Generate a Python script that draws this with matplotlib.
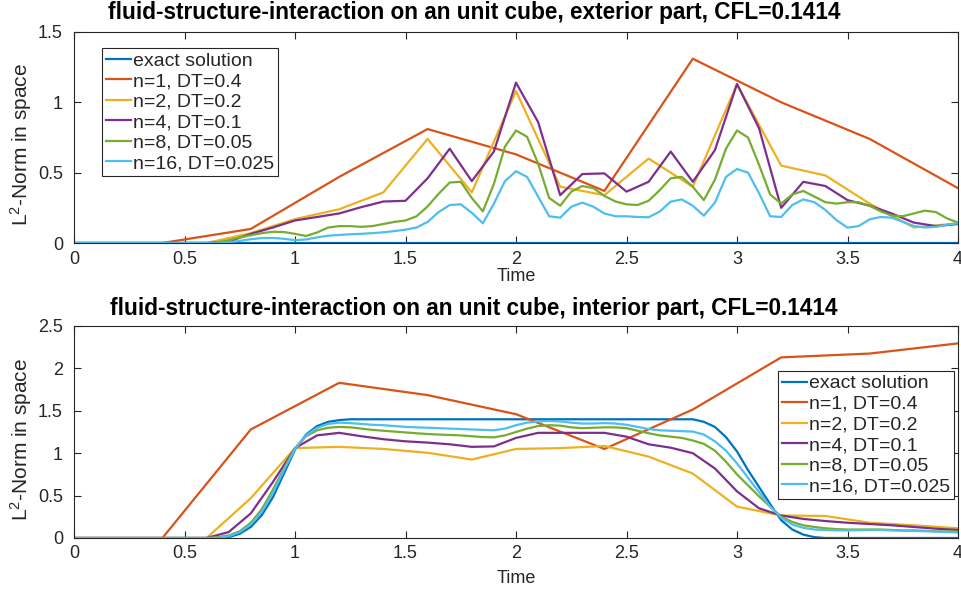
import numpy as np
import matplotlib
matplotlib.use("Agg")
import matplotlib.pyplot as plt

plt.rcParams['font.family'] = ['Liberation Sans', 'DejaVu Sans']
plt.rcParams['mathtext.default'] = 'regular'

# ---------------- data ----------------
labels = ["exact solution", "n=1, DT=0.4", "n=2, DT=0.2", "n=4, DT=0.1",
          "n=8, DT=0.05", "n=16, DT=0.025"]
colors = ["#0072BD", "#D95319", "#EDB120", "#7E2F8E", "#77AC30", "#4DBEEE"]

t_04 = np.linspace(0, 4, 11)
t_02 = np.linspace(0, 4, 21)
t_01 = np.linspace(0, 4, 41)
t_005 = np.linspace(0, 4, 81)

# exterior part
ext_exact = [0.0] * 81
ext_n1 = [0, 0, 0.10, 0.47, 0.81, 0.63, 0.37, 1.31, 1.00, 0.74, 0.39]
ext_n2 = [0, 0, 0, 0, 0.07, 0.17, 0.24, 0.36, 0.74, 0.36, 1.08, 0.40, 0.34,
          0.60, 0.40, 1.13, 0.55, 0.48, 0.28, 0.11, 0.14]
ext_n4 = [0, 0, 0, 0, 0, 0, 0, 0.01, 0.065, 0.11, 0.16, 0.185, 0.21, 0.255,
          0.295, 0.30, 0.46, 0.67, 0.44, 0.65, 1.14, 0.86, 0.34, 0.49, 0.495,
          0.365, 0.435, 0.65, 0.435, 0.66, 1.13, 0.815, 0.25, 0.435, 0.405,
          0.305, 0.265, 0.21, 0.145, 0.12, 0.135]
ext_n8 = [0, 0, 0, 0, 0, 0, 0, 0, 0, 0, 0, 0, 0,
          0.005, 0.02, 0.04, 0.055, 0.07, 0.08, 0.078, 0.065, 0.05, 0.075,
          0.11, 0.12, 0.12, 0.115, 0.12, 0.135, 0.15, 0.16, 0.19, 0.26,
          0.35, 0.43, 0.435, 0.32, 0.225, 0.42, 0.685, 0.80, 0.755, 0.565,
          0.32, 0.265, 0.365, 0.405, 0.39, 0.335, 0.295, 0.275, 0.27, 0.30,
          0.375, 0.46, 0.47, 0.40, 0.305, 0.45, 0.67, 0.80, 0.75, 0.555,
          0.345, 0.28, 0.345, 0.37, 0.33, 0.29, 0.28, 0.29, 0.29, 0.265,
          0.225, 0.195, 0.19, 0.21, 0.23, 0.22, 0.175, 0.145]
ext_n16 = [0, 0, 0, 0, 0, 0, 0, 0, 0, 0, 0, 0, 0, 0,
           0.005, 0.015, 0.027, 0.035, 0.036, 0.03, 0.02, 0.025, 0.04,
           0.052, 0.057, 0.062, 0.065, 0.07, 0.076, 0.085, 0.095, 0.11,
           0.15, 0.22, 0.27, 0.275, 0.215, 0.14, 0.28, 0.44, 0.51, 0.47,
           0.33, 0.19, 0.18, 0.258, 0.287, 0.258, 0.21, 0.19, 0.19, 0.185,
           0.183, 0.223, 0.294, 0.31, 0.265, 0.194, 0.287, 0.47, 0.526, 0.50,
           0.353, 0.19, 0.185, 0.27, 0.31, 0.29, 0.235, 0.163, 0.109, 0.12,
           0.168, 0.185, 0.18, 0.151, 0.121, 0.11, 0.115, 0.13, 0.14]

# interior part
int_exact = ([0] * 14 +
             [0.01, 0.05, 0.13, 0.27, 0.48, 0.76, 1.04, 1.22, 1.32, 1.37,
              1.39, 1.40] +
             [1.40] * 31 +
             [1.37, 1.31, 1.19, 1.02, 0.80, 0.60, 0.40, 0.21, 0.10, 0.04,
              0.01] +
             [0] * 13)
int_n1 = [0, 0, 1.28, 1.83, 1.685, 1.46, 1.05, 1.515, 2.13, 2.175, 2.295]
int_n2 = [0, 0, 0, 0, 0.47, 1.06, 1.075, 1.05, 1.005, 0.925, 1.05, 1.06,
          1.085, 0.96, 0.76, 0.37, 0.265, 0.26, 0.18, 0.15, 0.115]
int_n4 = [0, 0, 0, 0, 0, 0, 0, 0.07, 0.29, 0.66, 1.06, 1.21, 1.24, 1.20,
          1.165, 1.14, 1.125, 1.105, 1.075, 1.08, 1.18, 1.24, 1.24, 1.24,
          1.24, 1.195, 1.105, 1.065, 1.00, 0.82, 0.55, 0.35, 0.265, 0.225,
          0.20, 0.18, 0.165, 0.15, 0.13, 0.11, 0.095]
int_n8 = [0, 0, 0, 0, 0, 0, 0, 0, 0, 0, 0, 0, 0,
          0.01, 0.03, 0.08, 0.18, 0.34, 0.57, 0.82, 1.06, 1.20, 1.27, 1.30,
          1.31, 1.305, 1.29, 1.275, 1.265, 1.255, 1.245, 1.235, 1.226, 1.22,
          1.215, 1.21, 1.20, 1.19, 1.187, 1.21, 1.25, 1.29, 1.32, 1.33,
          1.325, 1.305, 1.295, 1.30, 1.305, 1.305, 1.295, 1.265, 1.235,
          1.21, 1.195, 1.18, 1.15, 1.11, 1.03, 0.90, 0.75, 0.62, 0.49, 0.37,
          0.25, 0.19, 0.15, 0.13, 0.115, 0.105, 0.10, 0.10, 0.10, 0.10,
          0.095, 0.09, 0.09, 0.085, 0.08, 0.078, 0.075]
int_n16 = [0, 0, 0, 0, 0, 0, 0, 0, 0, 0, 0, 0, 0, 0,
           0.02, 0.07, 0.16, 0.31, 0.53, 0.80, 1.05, 1.21, 1.30, 1.345, 1.36,
           1.355, 1.345, 1.335, 1.33, 1.32, 1.31, 1.305, 1.30, 1.295, 1.29,
           1.285, 1.28, 1.275, 1.27, 1.29, 1.33, 1.36, 1.375, 1.38, 1.375,
           1.36, 1.35, 1.35, 1.355, 1.35, 1.335, 1.31, 1.285, 1.27, 1.265,
           1.26, 1.255, 1.22, 1.14, 1.03, 0.88, 0.71, 0.54, 0.37, 0.24, 0.16,
           0.12, 0.10, 0.094, 0.09, 0.09, 0.092, 0.095, 0.095, 0.09, 0.085,
           0.083, 0.08, 0.075, 0.07, 0.065]

ext_series = [(t_005, ext_exact), (t_04, ext_n1), (t_02, ext_n2),
              (t_01, ext_n4), (t_005, ext_n8), (t_005, ext_n16)]
int_series = [(t_005, int_exact), (t_04, int_n1), (t_02, int_n2),
              (t_01, int_n4), (t_005, int_n8), (t_005, int_n16)]

titles = ["fluid-structure-interaction on an unit cube, exterior part, CFL=0.1414",
          "fluid-structure-interaction on an unit cube, interior part, CFL=0.1414"]
xticks = [0, 0.5, 1, 1.5, 2, 2.5, 3, 3.5, 4]
yticks_ext = [0, 0.5, 1, 1.5]
yticks_int = [0, 0.5, 1, 1.5, 2, 2.5]

# ---------------- figure ----------------
W, H = 962, 591
fig = plt.figure(figsize=(W / 100, H / 100), dpi=100)
axc = "#262626"
fs = 13
fs_ylab = 15
fs_leg = 14
fs_title = 16.3

def px_axes(l, t, r, b):
    return fig.add_axes([l / W, 1 - b / H, (r - l) / W, (b - t) / H])

ax1 = px_axes(74, 32, 958, 243)
ax2 = px_axes(74, 326, 958, 538)

for ax, series, yt, ttl, ttl_y, xlp, xtp in [
        (ax1, ext_series, yticks_ext, titles[0], 13, 0, 6),
        (ax2, int_series, yticks_int, titles[1], 309, 6, 5)]:
    for (tt, vv), c, lab in zip(series, colors, labels):
        ax.plot(tt, vv, color=c, lw=1.6, label=lab)
    ax.set_xlim(0, 4)
    ax.set_ylim(yt[0], yt[-1])
    ax.set_xticks(xticks)
    ax.set_xticklabels(["%g" % v for v in xticks])
    ax.set_yticks(yt)
    ax.set_yticklabels(["%g" % v for v in yt])
    ax.tick_params(direction='in', top=True, right=True, length=5, width=0.8,
                   color=axc, labelcolor=axc, labelsize=fs)
    ax.tick_params(axis='y', pad=8)
    ax.tick_params(axis='x', pad=xtp)
    for s in ax.spines.values():
        s.set_color(axc)
        s.set_linewidth(0.8)
    ax.set_xlabel("Time", fontsize=fs, color=axc, labelpad=xlp)
    ax.set_ylabel("L$^2$-Norm in space", fontsize=fs_ylab, color=axc)
    ax.yaxis.set_label_coords(-0.045, 0.465)
    fig.text(474 / W, 1 - ttl_y / H, ttl, ha='center', va='center',
             fontsize=fs_title, fontweight='bold', color='black')

leg_kw = dict(fontsize=fs_leg, fancybox=False, framealpha=1, edgecolor=axc,
              handlelength=1.3, handletextpad=0.1, labelspacing=0.15,
              borderpad=0.2, borderaxespad=0)
l1 = ax1.legend(loc='upper left', bbox_to_anchor=(0.0317, 0.924), **leg_kw)
l2 = ax2.legend(loc='upper right', bbox_to_anchor=(0.9955, 0.788), **leg_kw)
for l in (l1, l2):
    l.get_frame().set_linewidth(0.8)
    for txt in l.get_texts():
        txt.set_color(axc)

fig.savefig("out.png", dpi=100)
